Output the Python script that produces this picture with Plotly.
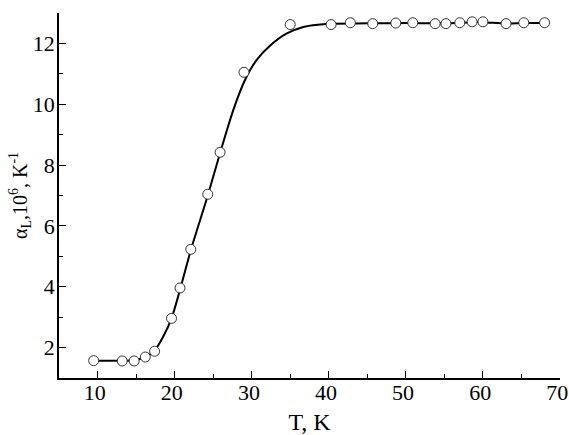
import plotly.graph_objects as go

# measured points
T_pts = [9.5, 13.2, 14.75, 16.2, 17.4, 19.6, 20.7, 22.1, 24.3, 25.9, 29.0, 35.0, 40.3,
         42.8, 45.7, 48.7, 50.9, 53.8, 55.2, 57.0, 58.6, 60.0, 63.0, 65.3, 68.0]
alpha_pts = [1.57, 1.56, 1.56, 1.69, 1.88, 2.96, 3.96, 5.23, 7.04, 8.42, 11.05, 12.62, 12.62,
             12.68, 12.65, 12.67, 12.68, 12.65, 12.65, 12.68, 12.71, 12.71, 12.65, 12.68, 12.68]

# fitted curve
T_fit = [9.5, 12.0, 14.7, 16.2, 17.4, 18.5, 19.6, 20.7, 22.1, 24.3, 25.9, 27.6, 29.1, 30.6,
         32.4, 34.5, 36.7, 38.9, 40.2, 45.0, 50.0, 55.0, 58.6, 60.0, 63.0, 65.3, 68.0]
alpha_fit = [1.57, 1.57, 1.58, 1.69, 1.9, 2.35, 2.96, 3.9, 5.2, 7.0, 8.4, 9.8, 10.78, 11.44,
             11.93, 12.32, 12.54, 12.62, 12.65, 12.66, 12.67, 12.66, 12.7, 12.7, 12.65, 12.67, 12.67]

x_ticks = [10, 20, 30, 40, 50, 60, 70]
x_labels = ["10", "20", "30", "40", "50", "60", "70"]
y_ticks = [2, 4, 6, 8, 10, 12]

fig = go.Figure()
fig.add_trace(go.Scatter(x=T_fit, y=alpha_fit, mode="lines",
                         line=dict(color="black", width=2, shape="spline", smoothing=0.8),
                         hoverinfo="skip", showlegend=False))
fig.add_trace(go.Scatter(x=T_pts, y=alpha_pts, mode="markers",
                         marker=dict(symbol="circle", size=10, color="white",
                                     line=dict(color="#333333", width=1)),
                         showlegend=False))

serif = "Liberation Serif, Times New Roman, serif"
tick_font = dict(family=serif, size=22, color="black")
xt_font = dict(family=serif, size=24, color="black")
yt_font = dict(family=serif, size=20, color="black")

fig.update_layout(
    width=569, height=435,
    margin=dict(l=59, r=9, t=13, b=57),
    paper_bgcolor="white", plot_bgcolor="white",
    font=tick_font,
    xaxis=dict(range=[5, 70], tickvals=x_ticks, ticktext=[s + "\u00a0" for s in x_labels],
               ticks="inside", ticklen=7, tickwidth=1.2,
               tickcolor="black", showline=True, linecolor="black", linewidth=1.5,
               showgrid=False, zeroline=False, tickfont=tick_font, automargin=False,
               ticklabelstandoff=-6, ticklabeloverflow="allow",
               minor=dict(dtick=5, tick0=0, ticks="inside", ticklen=4, tickwidth=1.2, tickcolor="black"),
               title=dict(text="T, K", font=xt_font, standoff=12)),
    yaxis=dict(range=[1, 13], tickvals=y_ticks, ticks="inside", ticklen=7, tickwidth=1.2,
               tickcolor="black", showline=True, linecolor="black", linewidth=1.5,
               showgrid=False, zeroline=False, tickfont=tick_font, automargin=False,
               ticklabelstandoff=-2,
               minor=dict(dtick=1, tick0=0, ticks="inside", ticklen=4, tickwidth=1.2, tickcolor="black"),
               title=dict(text="α<sub>L</sub>,10<sup>6</sup>, K<sup>-1</sup>", font=yt_font, standoff=0)),
)

# remove the default page margin so the 569x435 figure fills the window exactly
fig.write_html("out.html",
               config={"displayModeBar": False},
               post_script="document.body.style.margin='0';"
                           "document.documentElement.style.overflow='hidden';")
